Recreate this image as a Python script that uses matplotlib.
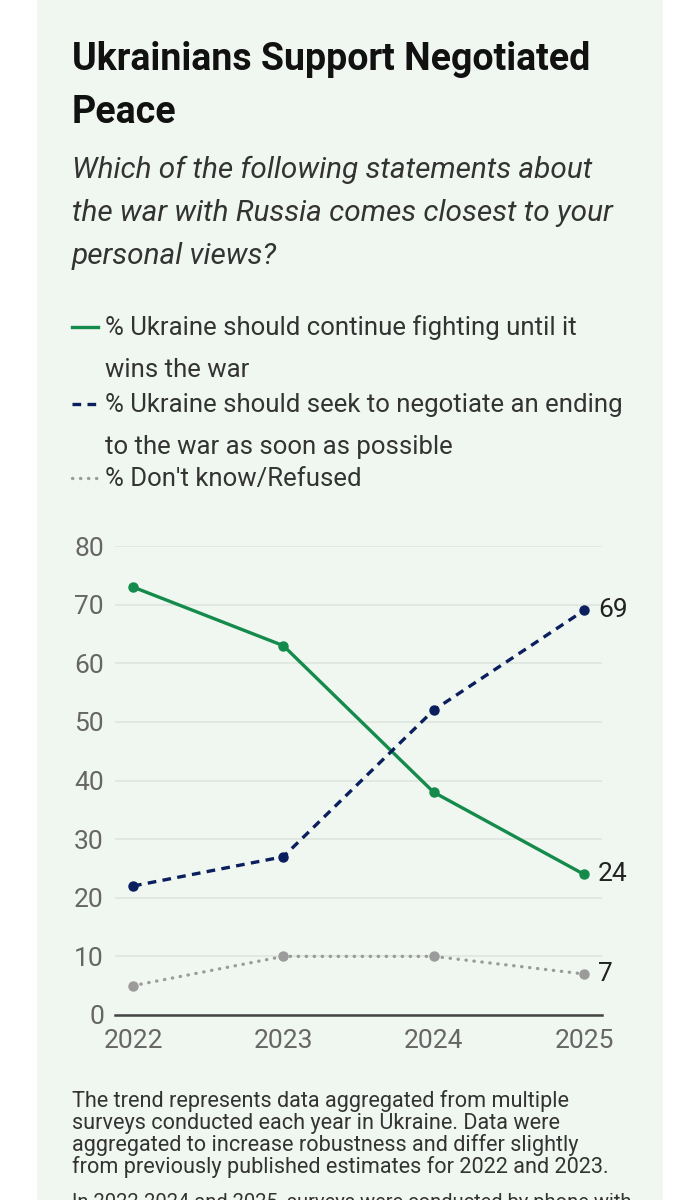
import matplotlib.pyplot as plt
from matplotlib.patches import Rectangle
from matplotlib.lines import Line2D

# Data
years = [2022, 2023, 2024, 2025]
fight = [73, 63, 38, 24]
negotiate = [22, 27, 52, 69]
dont_know = [5, 10, 10, 7]
y_ticks = [0, 10, 20, 30, 40, 50, 60, 70, 80]

subtitle_lines = ["Which of the following statements about",
                  "the war with Russia comes closest to your",
                  "personal views?"]
legend_items = [
    ("% Ukraine should continue fighting until it", "wins the war"),
    ("% Ukraine should seek to negotiate an ending", "to the war as soon as possible"),
    ("% Don't know/Refused", None),
]
footnote_lines = ["The trend represents data aggregated from multiple",
                  "surveys conducted each year in Ukraine. Data were",
                  "aggregated to increase robustness and differ slightly",
                  "from previously published estimates for 2022 and 2023."]
cut_line = "In 2022-2024 and 2025, surveys were conducted by phone with"

GREEN = '#148a4b'
NAVY = '#0b1f5e'
GREY = '#9b9b9b'
PANEL = '#f0f7f0'
FONT = 'Roboto'
DASH = (0, (2.6, 1.9))
DOT = (0, (0.1, 2.3))

W, H = 699, 1200
fig = plt.figure(figsize=(W / 100, H / 100), dpi=100)
fig.patch.set_facecolor('white')


def fx(px):
    return px / W


def fy(py):
    return 1 - py / H


fig.patches.append(Rectangle((fx(37), 0), fx(663) - fx(37), 1, transform=fig.transFigure,
                             facecolor=PANEL, edgecolor='none', zorder=-10))

# Title and subtitle
fig.text(fx(72), fy(70), "Ukrainians Support Negotiated", fontsize=27, fontweight='bold',
         family=FONT, color='#111111', va='baseline')
fig.text(fx(72), fy(123), "Peace", fontsize=27, fontweight='bold',
         family=FONT, color='#111111', va='baseline')
for i, line in enumerate(subtitle_lines):
    fig.text(fx(72), fy(178 + 43 * i), line, fontsize=21.4, style='italic',
             family=FONT, color='#333333', va='baseline')

# Legend drawn by hand
legend_y = [335, 412, 486]
styles = [dict(color=GREEN, linestyle='-'),
          dict(color=NAVY, linestyle=DASH),
          dict(color=GREY, linestyle=DOT, dash_capstyle='round')]
for (l1, l2), by, st in zip(legend_items, legend_y, styles):
    fig.add_artist(Line2D([fx(72), fx(98)], [fy(by - 8), fy(by - 8)], lw=2.4,
                          transform=fig.transFigure, **st))
    fig.text(fx(105), fy(by), l1, fontsize=18.5, family=FONT, color='#333333', va='baseline')
    if l2:
        fig.text(fx(105), fy(by + 42), l2, fontsize=18.5, family=FONT, color='#333333', va='baseline')

# Chart
ax = fig.add_axes([fx(115), fy(1015), fx(602) - fx(115), fy(546) - fy(1015)])
ax.set_facecolor('none')
ax.plot(years, fight, color=GREEN, lw=2.4, marker='o', ms=6.5, zorder=3, clip_on=False)
ax.plot(years, negotiate, color=NAVY, lw=2.4, linestyle=DASH, marker='o', ms=6.5,
        zorder=3, clip_on=False)
ax.plot(years, dont_know, color=GREY, lw=2.4, linestyle=DOT, dash_capstyle='round',
        marker='o', ms=6.5, zorder=3, clip_on=False)

for vals in (negotiate, fight, dont_know):
    ax.annotate(str(vals[-1]), (years[-1], vals[-1]), xytext=(10, 0), textcoords='offset points',
                fontsize=19, family=FONT, color='#222222', va='center', ha='left')

ax.set_xlim(2021.88, 2025.12)
ax.set_ylim(0, 80)
ax.set_yticks(y_ticks)
ax.set_xticks(years)
ax.grid(axis='y', color='#dfe4df', lw=1.2)
ax.set_axisbelow(True)
for s in ['top', 'right', 'left']:
    ax.spines[s].set_visible(False)
ax.spines['bottom'].set_color('#444444')
ax.spines['bottom'].set_linewidth(1.8)
ax.tick_params(length=0, labelsize=19, labelcolor='#666666', pad=10)
ax.tick_params(axis='y', pad=8)
for lab in ax.get_xticklabels() + ax.get_yticklabels():
    lab.set_family(FONT)

# Footnote
for i, line in enumerate(footnote_lines):
    fig.text(fx(72), fy(1107 + 22 * i), line, fontsize=15.6, family=FONT, color='#333333',
             va='baseline')
fig.text(fx(72), fy(1208), cut_line, fontsize=14.5, family=FONT, color='#333333', va='baseline')

fig.savefig('out.png', dpi=100, facecolor=fig.get_facecolor())
